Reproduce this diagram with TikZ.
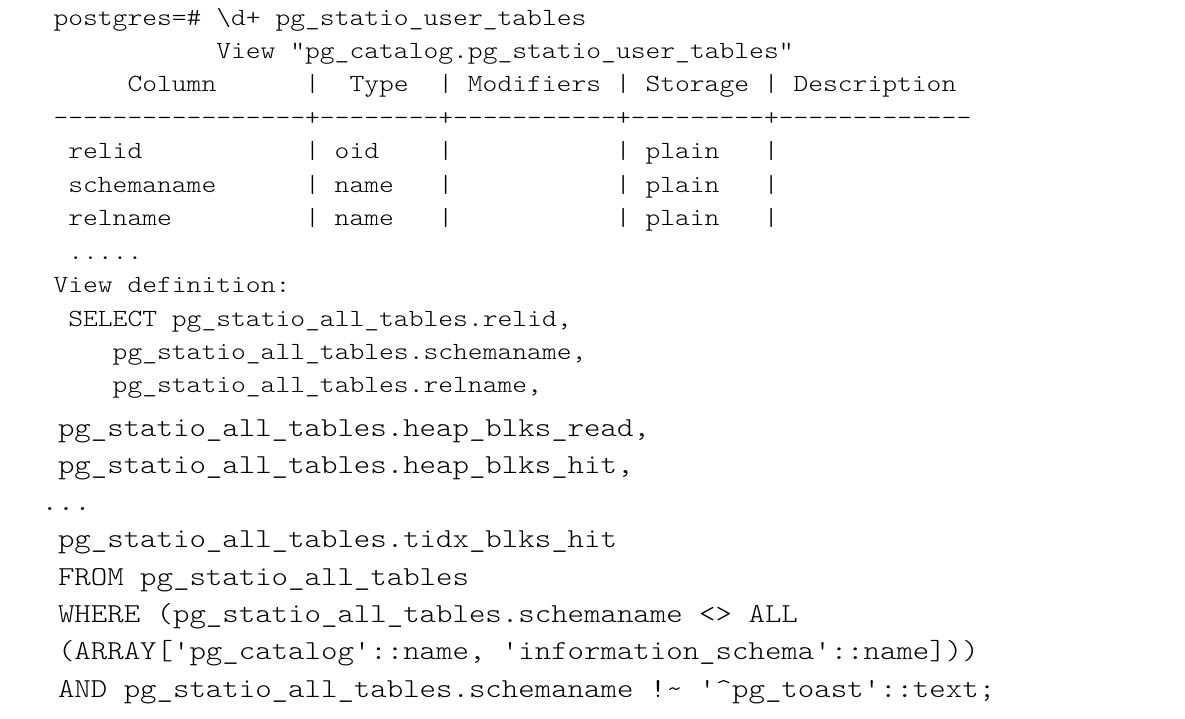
\documentclass[tikz,border=0pt]{standalone}
\usepackage{fontspec}
\usepackage{graphicx}
\setmonofont{lmmonolt10-regular}[Extension=.otf]
\newcommand{\cw}[1]{\scalebox{1.143}[1]{#1}}
\begin{document}
\begin{tikzpicture}[
  line/.style={anchor=base west, inner sep=0pt, outer sep=0pt, text=black},
  topline/.style={line, font=\ttfamily\fontsize{24.67pt}{24.67pt}\selectfont\frenchspacing},
  botline/.style={line, font=\ttfamily\fontsize{27.4pt}{27.4pt}\selectfont\frenchspacing}
]
\useasboundingbox (0,0) rectangle (1185pt,-718pt);
\fill[white] (0,0) rectangle (1185pt,-718pt);
% top block: one unit = one character column / one line
\begin{scope}[x=14.8pt, y=-33.45pt, xshift=53.5pt, yshift=-25pt]
  \node[topline] (prompt) at (0,0) {\cw{postgres=\# \textbackslash d+ pg\_statio\_user\_tables}};
  \node[topline] (title) at (11,1) {\cw{View "pg\_catalog.pg\_statio\_user\_tables"}};
  % header
  \node[topline] (hcol) at (5,2) {\cw{Column}};
  \node[topline] (hb1) at (17,2) {\cw{|}};
  \node[topline] (htype) at (20,2) {\cw{Type}};
  \node[topline] (hb2) at (26,2) {\cw{|}};
  \node[topline] (hmod) at (28,2) {\cw{Modifiers}};
  \node[topline] (hb3) at (38,2) {\cw{|}};
  \node[topline] (hsto) at (40,2) {\cw{Storage}};
  \node[topline] (hb4) at (48,2) {\cw{|}};
  \node[topline] (hdes) at (50,2) {\cw{Description}};
  \node[topline] (rule) at (0,3) {\cw{-----------------+--------+-----------+---------+-------------}};
  % rows
  \foreach \r/\c/\t in {4/relid/oid, 5/schemaname/name, 6/relname/name}{
    \node[topline] (c\r) at (1,\r) {\cw{\c}};
    \node[topline] (b1\r) at (17,\r) {\cw{|}};
    \node[topline] (t\r) at (19,\r) {\cw{\t}};
    \node[topline] (b2\r) at (26,\r) {\cw{|}};
    \node[topline] (b3\r) at (38,\r) {\cw{|}};
    \node[topline] (s\r) at (40,\r) {\cw{plain}};
    \node[topline] (b4\r) at (48,\r) {\cw{|}};
  }
  \node[topline] (dots1) at (1,7) {\cw{.....}};
  \node[topline] (vdef) at (0,8) {\cw{View definition:}};
  \node[topline] (sel) at (1,9) {\cw{SELECT pg\_statio\_all\_tables.relid,}};
  \node[topline] (sel2) at (4,10) {\cw{pg\_statio\_all\_tables.schemaname,}};
  \node[topline] (sel3) at (4,11) {\cw{pg\_statio\_all\_tables.relname,}};
\end{scope}
% bottom block
\begin{scope}[x=16.45pt, y=-37.3pt, xshift=58pt, yshift=-436pt]
  \node[botline] (l1) at (0,0) {\cw{pg\_statio\_all\_tables.heap\_blks\_read,}};
  \node[botline] (l2) at (0,1) {\cw{pg\_statio\_all\_tables.heap\_blks\_hit,}};
  \node[botline] (dots2) at (-1,2) {\cw{...}};
  \node[botline] (l3) at (0,3) {\cw{pg\_statio\_all\_tables.tidx\_blks\_hit}};
  \node[botline] (l4) at (0,4) {\cw{FROM pg\_statio\_all\_tables}};
  \node[botline] (l5) at (0,5) {\cw{WHERE (pg\_statio\_all\_tables.schemaname <> ALL}};
  \node[botline] (l6) at (0,6) {\cw{(ARRAY['pg\_catalog'::name, 'information\_schema'::name]))}};
  \node[botline] (l7) at (0,7) {\cw{AND pg\_statio\_all\_tables.schemaname !\textasciitilde{} '\textasciicircum pg\_toast'::text;}};
\end{scope}
\end{tikzpicture}
\end{document}
